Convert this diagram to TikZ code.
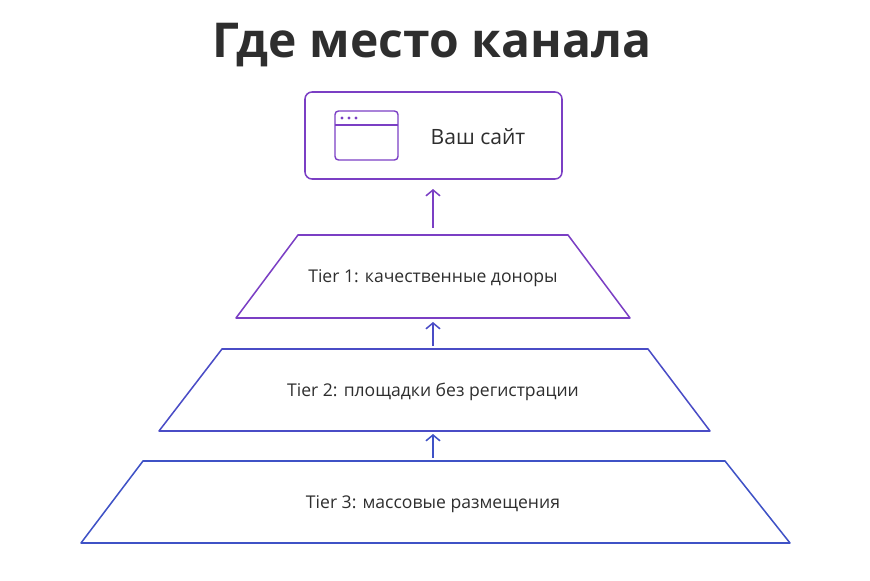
\documentclass[tikz,border=0pt]{standalone}
\usepackage{fontspec}
\setmainfont{Open Sans}
\usetikzlibrary{arrows.meta}
\definecolor{ink}{HTML}{2E2E2E}
\definecolor{violet}{HTML}{7B3FC4}
\definecolor{tierblue}{HTML}{4A4CC6}
\definecolor{deepblue}{HTML}{3F52C6}
\tikzset{
  tier/.style = {line width=1.3pt, line join=round},
  label/.style = {text=ink, font=\fontsize{15}{17}\selectfont},
  up/.style = {-{Straight Barb[length=5pt,width=12pt]}, line width=1.3pt}
}
\begin{document}
\begin{tikzpicture}[x=0.03cm, y=-0.03cm]
  \useasboundingbox (0,0) rectangle (870,580);
  \node (title) [text=ink, font=\fontsize{41}{44}\selectfont\bfseries] at (432,45) {Где место канала};
  % site box
  \node (site) [draw=violet, line width=1.3pt, rounded corners=6pt,
    minimum width=257*0.03cm, minimum height=87*0.03cm] at (433.5,135.5) {};
  \node (sitetext) [text=ink, font=\fontsize{18}{20}\selectfont] at (478,137) {Ваш сайт};
  \draw[violet, line width=1.2pt, rounded corners=3pt] (335,111) rectangle (398,160);
  \draw[violet, line width=1.2pt] (335,125) -- (398,125);
  \foreach \x in {342,349,356}{
    \fill[violet] (\x,118) circle (1.6);
  }
  % tiers
  \draw[tier, violet] (298,235) -- (568,235) -- (630,318) -- (236,318) -- cycle;
  \draw[tier, tierblue] (222,349) -- (648,349) -- (710,431) -- (159,431) -- cycle;
  \draw[tier, deepblue] (143,461) -- (725,461) -- (790,543) -- (81,543) -- cycle;
  \node (t1) [label] at (433,278) {Tier 1: качественные доноры};
  \node (t2) [label] at (433,392) {Tier 2: площадки без регистрации};
  \node (t3) [label] at (433,504) {Tier 3: массовые размещения};
  \coordinate (a1) at (433,228); \coordinate (b1) at (433,189);
  \coordinate (a2) at (433,346); \coordinate (b2) at (433,322);
  \coordinate (a3) at (433,458); \coordinate (b3) at (433,434);
  \draw[up, violet] (a1) -- (b1);
  \draw[up, tierblue] (a2) -- (b2);
  \draw[up, deepblue] (a3) -- (b3);
\end{tikzpicture}
\end{document}
